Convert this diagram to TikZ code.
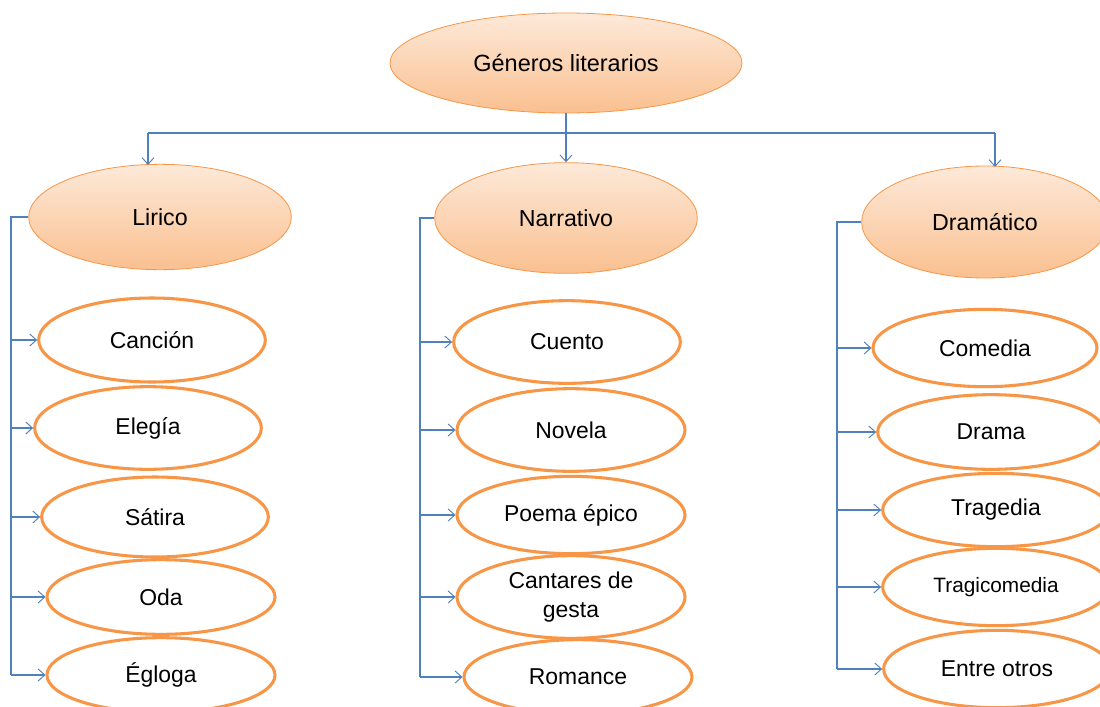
\documentclass[tikz,border=0pt]{standalone}
\usepackage{fontspec}
\setmainfont{Liberation Sans}
\usetikzlibrary{shapes.geometric,arrows.meta}
\definecolor{conncol}{HTML}{4F81BD}
\definecolor{orgline}{HTML}{F79646}
\definecolor{orgtop}{HTML}{FDE9D9}
\definecolor{orgbot}{HTML}{FAC090}
\tikzset{
  conn/.style={draw=conncol, line width=0.8pt},
  arr/.style={conn, -{Straight Barb[length=5pt,width=9pt,line width=0.7pt]}},
  head/.style={ellipse, draw=orgline, line width=0.6pt, top color=orgtop, bottom color=orgbot, inner sep=0pt, font=\fontsize{17.4}{20}\selectfont},
  leaf/.style={ellipse, draw=orgline, line width=2.3pt, fill=white, inner sep=0pt, font=\fontsize{17.2}{20}\selectfont, align=center},
}
\begin{document}
\begin{tikzpicture}[x=0.75pt,y=-0.75pt]
\clip (0,0) rectangle (1100,707);
\fill[white] (0,0) rectangle (1100,707);
% heads
\node[head, minimum width=264pt, minimum height=75pt, font=\fontsize{17.6}{20}\selectfont] (top) at (566,63) {Géneros literarios};
\node[head, minimum width=197pt, minimum height=79pt] (lir) at (160,217) {Lirico};
\node[head, minimum width=197pt, minimum height=83pt] (nar) at (566,218) {Narrativo};
\node[head, minimum width=185pt, minimum height=84pt] (dra) at (985,222) {Dramático};
% Lirico children
\node[leaf, minimum width=170pt, minimum height=63pt] (l1) at (152,340) {Canción};
\node[leaf, minimum width=170pt, minimum height=62pt] (l2) at (148,428) {Elegía};
\node[leaf, minimum width=170pt, minimum height=60pt] (l3) at (155,517) {Sátira};
\node[leaf, minimum width=171pt, minimum height=56pt] (l4) at (161,597) {Oda};
\node[leaf, minimum width=171pt, minimum height=56pt] (l5) at (161,675) {Égloga};
% Narrativo children
\node[leaf, minimum width=170pt, minimum height=62pt] (n1) at (567,342) {Cuento};
\node[leaf, minimum width=171pt, minimum height=62pt] (n2) at (571,430) {Novela};
\node[leaf, minimum width=171pt, minimum height=58pt] (n3) at (571,515) {Poema épico};
\node[leaf, minimum width=171pt, minimum height=62pt, font=\fontsize{17.2}{22}\selectfont] (n4) at (571,597) {Cantares de\\gesta};
\node[leaf, minimum width=171pt, minimum height=56pt] (n5) at (578,677) {Romance};
% Dramatico children
\node[leaf, minimum width=168pt, minimum height=58pt] (d1) at (985,348) {Comedia};
\node[leaf, minimum width=170pt, minimum height=56pt] (d2) at (991,432) {Drama};
\node[leaf, minimum width=170pt, minimum height=55pt] (d3) at (996,510) {Tragedia};
\node[leaf, minimum width=170pt, minimum height=58pt, font=\fontsize{15.6}{18}\selectfont] (d4) at (996,587) {Tragicomedia};
\node[leaf, minimum width=170pt, minimum height=58pt] (d5) at (997,669) {Entre otros};
% top connectors
\coordinate (barc) at (566,133);
\coordinate (barl) at (148,133);
\coordinate (barr) at (995,133);
\coordinate (lirin) at (148,165);
\coordinate (drain) at (995,167);
\draw[arr] (top.south) -- (nar.north);
\draw[conn] (barl) -- (barr);
\draw[arr] (barl) -- (lirin);
\draw[arr] (barr) -- (drain);
% Lirico bracket
\coordinate (lb) at (11,217);
\draw[conn] (lir.west) -- (lb) -- (lb |- l5.west);
\foreach \c in {l1,l2,l3,l4,l5} \draw[arr] (lb |- \c.west) -- (\c.west);
% Narrativo bracket
\coordinate (nb) at (420,218);
\draw[conn] (nar.west) -- (nb) -- (nb |- n5.west);
\foreach \c in {n1,n2,n3,n4,n5} \draw[arr] (nb |- \c.west) -- (\c.west);
% Dramatico bracket
\coordinate (db) at (837,222);
\draw[conn] (dra.west) -- (db) -- (db |- d5.west);
\foreach \c in {d1,d2,d3,d4,d5} \draw[arr] (db |- \c.west) -- (\c.west);
\end{tikzpicture}
\end{document}
